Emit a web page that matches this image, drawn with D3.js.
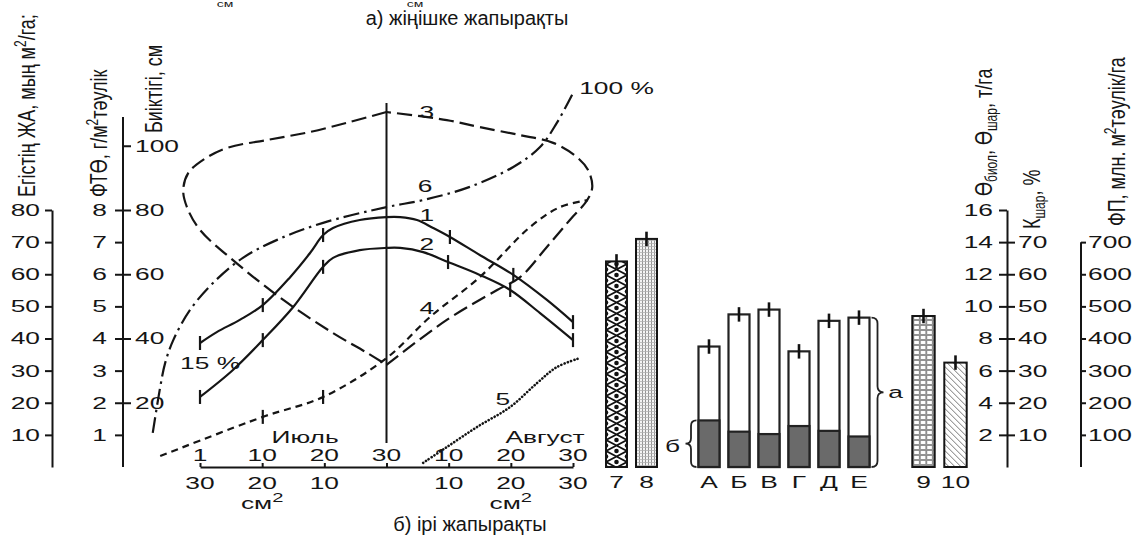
<!DOCTYPE html>
<html><head><meta charset="utf-8">
<script src="https://cdn.jsdelivr.net/npm/d3@7"></script>
<style>
html,body{margin:0;padding:0;background:#fff;}
svg{display:block;font-family:"Liberation Sans",Arial,sans-serif;}
</style></head><body>
<svg id="c" width="1135" height="540"></svg>
<script>
// ---------------- DATA ----------------
const dateTicks = ["1","10","20","30","10","20","30"];
const areaTicks = ["30","20","10","","10","20","30"];
const leafAreaTicks = [10,20,30,40,50,60,70,80];
const photoTicks = [1,2,3,4,5,6,7,8];
const heightTicks = [20,40,60,80,100];
const yieldTicks = [2,4,6,8,10,12,14,16];
const kTicks = [10,20,30,40,50,60,70];
const fpTicks = [100,200,300,400,500,600,700];

// curves: [position on date axis (tick index), value on left scale]
const curve1 = [[0,38.6],[0.27,42.0],[0.64,45.8],[1.01,50.4],[1.45,59.1],[1.77,66.6],[1.98,72.2],[2.14,74.4],[2.57,76.9],[3.0,77.8],[3.22,77.8],[3.49,76.9],[3.75,74.4],[4.02,71.6],[4.5,66.0],[5.04,59.8],[5.58,52.0],[6.0,45.1]];
const curve1Marks = [0,3,6,13,15,17];
const curve2 = [[0,21.8],[0.53,30.2],[1.01,39.5],[1.5,49.8],[1.98,62.3],[2.14,65.1],[2.57,67.5],[3.0,68.2],[3.22,68.2],[3.59,66.9],[3.99,63.8],[4.5,59.8],[4.99,55.1],[5.47,47.9],[6.0,39.5]];
const curve2Marks = [0,2,4,10,12,14];
const curve3Left = [[3.0,110.5],[2.41,107.4],[1.77,104.3],[1.08,101.8],[0.43,99.3],[0.05,95.6],[-0.19,91.5],[-0.27,86.2],[-0.21,80.9],[0,73.8],[0.53,64.4],[1.34,52.0],[2.14,41.7],[2.69,35.5],[3.0,31.8]];
const curve3Right = [[3.0,31.8],[3.97,45.8],[4.78,55.1],[5.15,59.1],[5.58,68.5],[5.95,76.9],[6.23,83.1],[6.31,87.2],[6.24,92.5],[6.06,96.5],[5.68,100.9],[5.15,103.3],[4.5,105.8],[3.97,108.0],[3.0,110.5]];
const curve4 = [[-0.64,3.4],[1.01,15.6],[1.98,21.8],[3.0,33.9],[3.7,46.7],[4.5,59.1],[5.31,74.7],[5.79,80.9],[6.24,83.1]];
const curve4Marks = [1,2];
const curve5 = [[3.59,1.3],[3.97,6.2],[4.46,12.5],[4.99,18.7],[5.42,26.1],[5.74,31.1],[6.11,33.9]];
const curve6 = [[-0.76,10.6],[-0.64,24.9],[-0.56,32.4],[-0.43,39.5],[-0.16,48.9],[0.21,57.3],[0.69,65.1],[1.24,70.7],[1.98,76.0],[3.0,80.9],[3.59,83.1],[4.34,87.2],[5.04,93.4],[5.47,99.6],[5.74,107.1],[6.0,116.4]];

// bars (right scale, т/га)
const bars1 = ["7","8"];
const bars1Values = [12.8,14.2];
const bars2 = ["А","Б","В","Г","Д","Е"];
const bars2Total = [7.5,9.5,9.8,7.2,9.1,9.3];
const bars2Lower = [2.9,2.2,2.05,2.55,2.25,1.9];
const bars3 = ["9","10"];
const bars3Values = [9.4,6.5];
const barErr = 0.45;

// ---------------- DRAW ----------------
const svg = d3.select("#c");
const FONT = '"Liberation Sans", Arial, sans-serif';
const FS = 17, SX = 1.55, INK = "#151515";

const xS = d3.scaleLinear().domain([0,6]).range([200,573]);
const yL = d3.scaleLinear().domain([0,80]).range([467,210]);
const yF = d3.scaleLinear().domain([0,8]).range([467,210]);
const yR = d3.scaleLinear().domain([0,16]).range([467,210]);
const yK = d3.scaleLinear().domain([0,80]).range([467,210]);
const yP = d3.scaleLinear().domain([0,800]).range([467,210]);

function hText(x, y, txt, anchor, size) {
  return svg.append("text")
    .attr("transform", `translate(${x},${y}) scale(${SX},1)`)
    .attr("text-anchor", anchor || "middle").attr("dy", "0.35em")
    .attr("font-size", size || FS).attr("fill", INK).text(txt);
}
function vText(x, yBottom, parts) {
  const t = svg.append("text")
    .attr("transform", `translate(${x},${yBottom}) rotate(-90) scale(1,1.35)`)
    .attr("dy", "0.35em").attr("font-size", 18).attr("fill", INK);
  parts.forEach(p => {
    const ts = t.append("tspan").text(p.t);
    if (p.sub) ts.attr("font-size", 12).attr("dy", 4);
    if (p.sup) ts.attr("font-size", 12).attr("dy", -6);
    if (p.back) ts.attr("dy", p.back);
  });
  return t;
}
function styleAxis(g) {
  g.attr("font-size", FS).attr("font-family", FONT);
  g.selectAll("path,line").attr("stroke", INK).attr("stroke-width", 2);
  g.selectAll(".tick text").attr("fill", INK).each(function(){
    const t = d3.select(this); const x = +t.attr("x");
    t.attr("x", 0).attr("transform", `translate(${x},0) scale(${SX},1)`);
  });
}

// Titles
svg.append("text").attr("x", 467).attr("y", 18).attr("dy","0.35em").attr("text-anchor","middle")
  .attr("font-size", 20).attr("fill", INK).text("а) жіңішке жапырақты");
svg.append("text").attr("x", 470).attr("y", 524).attr("dy","0.35em").attr("text-anchor","middle")
  .attr("font-size", 20).attr("fill", INK).text("б) ірі жапырақты");
[225, 415].forEach(x => {
  svg.append("text").attr("transform", `translate(${x},7) scale(${SX},1)`).attr("text-anchor","middle")
    .attr("font-size", 9).attr("fill", INK).text("см");
});

// Left axis 1 : ЖА
const gA1 = svg.append("g").attr("transform","translate(52,0)")
  .call(d3.axisLeft(yL).tickValues(leafAreaTicks).tickSize(7).tickSizeOuter(0).tickPadding(5));
styleAxis(gA1);
vText(26, 197, [{t:"Егістің ЖА, мың м"},{t:"2",sup:true},{t:"/га;",back:6}]);

// Left axis 2 : ФТӨ (left) and Биіктігі (right)
const gA2 = svg.append("g").attr("transform","translate(123,0)")
  .call(d3.axisLeft(yF).tickValues(photoTicks).tickSize(8).tickSizeOuter(0).tickPadding(8));
styleAxis(gA2); gA2.select(".domain").remove();
const gA3 = svg.append("g").attr("transform","translate(123,0)")
  .call(d3.axisRight(yL).tickValues(heightTicks).tickSize(8).tickSizeOuter(0).tickPadding(4));
styleAxis(gA3); gA3.select(".domain").remove();
svg.append("line").attr("x1",123).attr("x2",123).attr("y1",117).attr("y2",yL(0))
  .attr("stroke",INK).attr("stroke-width",2);
vText(98, 197, [{t:"ФТӨ, г/м"},{t:"2",sup:true},{t:"тәулік",back:6}]);
vText(153, 133, [{t:"Биіктігі, см"}]);

// Right axis 1 : Өбиол (left labels) and Кшар (right labels)
const gR1 = svg.append("g").attr("transform","translate(1007,0)")
  .call(d3.axisLeft(yR).tickValues(yieldTicks).tickSize(8).tickSizeOuter(0).tickPadding(6));
styleAxis(gR1);
const gR2 = svg.append("g").attr("transform","translate(1007,0)")
  .call(d3.axisRight(yK).tickValues(kTicks).tickSize(8).tickSizeOuter(0).tickPadding(3));
styleAxis(gR2); gR2.select(".domain").remove();
vText(983, 196, [{t:"Ө"},{t:"биол",sub:true},{t:", Ө",back:-4},{t:"шар",sub:true},{t:", т/га",back:-4}]);
vText(1031, 229, [{t:"К"},{t:"шар",sub:true},{t:", %",back:-4}]);

// Right axis 2 : ФП
const gR3 = svg.append("g").attr("transform","translate(1081,0)")
  .call(d3.axisRight(yP).tickValues(fpTicks).tickSize(5).tickSizeOuter(0).tickPadding(2));
styleAxis(gR3); gR3.select(".domain").remove();
svg.append("line").attr("x1",1081).attr("x2",1081).attr("y1",yP(700)).attr("y2",yP(0))
  .attr("stroke",INK).attr("stroke-width",2);
vText(1116, 226, [{t:"ФП, млн. м"},{t:"2",sup:true},{t:"тәулік/га",back:6}]);

// Bottom date / area axis
const gX = svg.append("g").attr("transform",`translate(0,${yL(0)})`)
  .call(d3.axisTop(xS).tickValues(d3.range(7)).tickSize(4).tickSizeOuter(0).tickFormat(""));
gX.selectAll("path,line").attr("stroke",INK).attr("stroke-width",2);
dateTicks.forEach((d,i) => hText(xS(i), 455, d));
areaTicks.forEach((d,i) => { if (d) hText(xS(i), 483, d); });
[1,5].forEach(i => {
  const t = svg.append("text").attr("transform",`translate(${xS(i)},503) scale(${SX},1)`)
    .attr("text-anchor","middle").attr("dy","0.35em").attr("font-size",FS).attr("fill",INK);
  t.append("tspan").text("см");
  t.append("tspan").attr("font-size",13).attr("dy",-7).text("2");
});
hText(xS(1.69), yL(9.3), "Июль");
hText(xS(5.55), yL(9.3), "Август");

// Center line
svg.append("line").attr("x1",xS(3)).attr("x2",xS(3)).attr("y1",103).attr("y2",443)
  .attr("stroke",INK).attr("stroke-width",2);

// Curves
const line = d3.line().x(d => xS(d[0])).y(d => yL(d[1])).curve(d3.curveCatmullRom.alpha(0.5));
function drawCurve(data, dash, w, round) {
  svg.append("path").attr("d", line(data)).attr("fill","none").attr("stroke",INK)
    .attr("stroke-width", w || 2.2).attr("stroke-dasharray", dash || null)
    .attr("stroke-linecap", round ? "round" : "butt");
}
drawCurve(curve3Left, "15,6");
drawCurve(curve3Right, "15,6");
drawCurve(curve4, "7,5");
drawCurve(curve6, "16,5,2.5,5");
drawCurve(curve5, "0.1,3.3", 2.6, true);
drawCurve(curve1);
drawCurve(curve2);
function marks(data, idx) {
  idx.forEach(i => {
    const d = data[i];
    svg.append("line").attr("x1",xS(d[0])).attr("x2",xS(d[0]))
      .attr("y1",yL(d[1])-7).attr("y2",yL(d[1])+7).attr("stroke",INK).attr("stroke-width",2.2);
  });
}
marks(curve1, curve1Marks);
marks(curve2, curve2Marks);
marks(curve4, curve4Marks);

// Curve labels
hText(xS(3.65), yL(110.5), "3");
hText(xS(3.62), yL(87.5), "6");
hText(xS(3.65), yL(78.5), "1");
hText(xS(3.65), yL(69.5), "2");
hText(xS(3.65), yL(49.5), "4");
hText(xS(4.87), yL(21), "5");
hText(xS(-0.32), yL(32.4), "15 %", "start");
hText(xS(6.1), yL(118), "100 %", "start");

// ---------------- Bars ----------------
const defs = svg.append("defs");
const b1 = d3.scaleBand().domain(bars1).range([601.5,661.5]).paddingInner(0.3).paddingOuter(0.15);
const b2 = d3.scaleBand().domain(bars2).range([694,874]).paddingInner(0.3).paddingOuter(0.15);
const b3 = d3.scaleBand().domain(bars3).range([907.5,971.5]).paddingInner(0.3).paddingOuter(0.15);

// pattern 7 : lattice with dots
function pat7(id, x, w) {
  const h = 11;
  const p = defs.append("pattern").attr("id",id).attr("patternUnits","userSpaceOnUse")
    .attr("x",x).attr("y",0).attr("width",w).attr("height",h);
  p.append("rect").attr("width",w).attr("height",h).attr("fill","#fff");
  p.append("path").attr("d",`M0,0 C${w*0.35},${h*0.35} ${w*0.65},${h*0.65} ${w},${h} M${w},0 C${w*0.65},${h*0.35} ${w*0.35},${h*0.65} 0,${h}`)
    .attr("stroke","#111").attr("stroke-width",1.8).attr("fill","none");
  [[w/2,0],[w/2,h],[0,h/2],[w,h/2]].forEach(c => p.append("circle").attr("cx",c[0]).attr("cy",c[1]).attr("r",2.3).attr("fill","#111"));
}
function pat8(id, x) {
  const p = defs.append("pattern").attr("id",id).attr("patternUnits","userSpaceOnUse")
    .attr("x",x).attr("y",0).attr("width",3).attr("height",3);
  p.append("rect").attr("width",3).attr("height",3).attr("fill","#f4f4f4");
  p.append("path").attr("d","M0.5,0 V3").attr("stroke","#8a8a8a").attr("stroke-width",0.9);
  p.append("path").attr("d","M0,0.5 H3").attr("stroke","#b0b0b0").attr("stroke-width",0.8);
}
function pat9(id, x) {
  const p = defs.append("pattern").attr("id",id).attr("patternUnits","userSpaceOnUse")
    .attr("x",x+1).attr("y",0).attr("width",6.5).attr("height",5);
  p.append("rect").attr("width",6.5).attr("height",5).attr("fill","#fff");
  p.append("rect").attr("x",0.5).attr("y",0.5).attr("width",5.5).attr("height",4).attr("fill","#fff")
    .attr("stroke","#888").attr("stroke-width",0.9);
}
function pat10(id, x) {
  const p = defs.append("pattern").attr("id",id).attr("patternUnits","userSpaceOnUse")
    .attr("x",x).attr("y",0).attr("width",6).attr("height",6);
  p.append("rect").attr("width",6).attr("height",6).attr("fill","#fff");
  p.append("path").attr("d","M0,0 L6,6 M-1,5 L1,7 M5,-1 L7,1").attr("stroke","#777").attr("stroke-width",1);
}

function whisker(cx, v) {
  svg.append("line").attr("x1",cx).attr("x2",cx).attr("y1",yR(v+barErr)).attr("y2",yR(v-barErr))
    .attr("stroke","#111").attr("stroke-width",2.6);
}
function barLabel(cx, txt) { hText(cx, 482, txt); }

bars1.forEach((k,i) => {
  const x = b1(k), w = b1.bandwidth();
  const id = "p" + k;
  if (i === 0) pat7(id, x, w); else pat8(id, x);
  svg.append("rect").attr("x",x).attr("y",yR(bars1Values[i])).attr("width",w)
    .attr("height",yR(0)-yR(bars1Values[i])).attr("fill",`url(#${id})`)
    .attr("stroke","#151515").attr("stroke-width",2);
  whisker(x + w/2, bars1Values[i]);
  barLabel(x + w/2, k);
});

bars2.forEach((k,i) => {
  const x = b2(k), w = b2.bandwidth();
  svg.append("rect").attr("x",x).attr("y",yR(bars2Total[i])).attr("width",w)
    .attr("height",yR(0)-yR(bars2Total[i])).attr("fill","#fff")
    .attr("stroke","#222").attr("stroke-width",2.2);
  svg.append("rect").attr("x",x).attr("y",yR(bars2Lower[i])).attr("width",w)
    .attr("height",yR(0)-yR(bars2Lower[i])).attr("fill","#6a6a6a")
    .attr("stroke","#222").attr("stroke-width",2.2);
  whisker(x + w/2, bars2Total[i]);
  barLabel(x + w/2, k);
});

bars3.forEach((k,i) => {
  const x = b3(k), w = b3.bandwidth();
  const id = "q" + k;
  if (i === 0) pat9(id, x); else pat10(id, x);
  svg.append("rect").attr("x",x).attr("y",yR(bars3Values[i])).attr("width",w)
    .attr("height",yR(0)-yR(bars3Values[i])).attr("fill",`url(#${id})`)
    .attr("stroke","#151515").attr("stroke-width",2);
  whisker(x + w/2, bars3Values[i]);
  barLabel(x + w/2, k);
});

// Braces
function brace(x, y1, y2, dir, w) {
  const ym = (y1+y2)/2, xa = x + dir*w*0.5, xt = x + dir*w, r = w*0.5;
  return `M${x},${y1} Q${xa},${y1} ${xa},${y1+r} L${xa},${ym-r} Q${xa},${ym} ${xt},${ym} Q${xa},${ym} ${xa},${ym+r} L${xa},${y2-r} Q${xa},${y2} ${x},${y2}`;
}
const bA = b2("А"), bE = b2("Е") + b2.bandwidth();
svg.append("path").attr("d", brace(bA-2, yR(bars2Lower[0]), yR(0), -1, 11))
  .attr("fill","none").attr("stroke","#222").attr("stroke-width",1.8);
hText(bA - 26, (yR(bars2Lower[0])+yR(0))/2 + 2, "б");
svg.append("path").attr("d", brace(bE+2, yR(bars2Total[5]), yR(0), 1, 12))
  .attr("fill","none").attr("stroke","#222").attr("stroke-width",1.8);
hText(bE + 26, (yR(bars2Total[5])+yR(0))/2, "а");
</script>
</body></html>
